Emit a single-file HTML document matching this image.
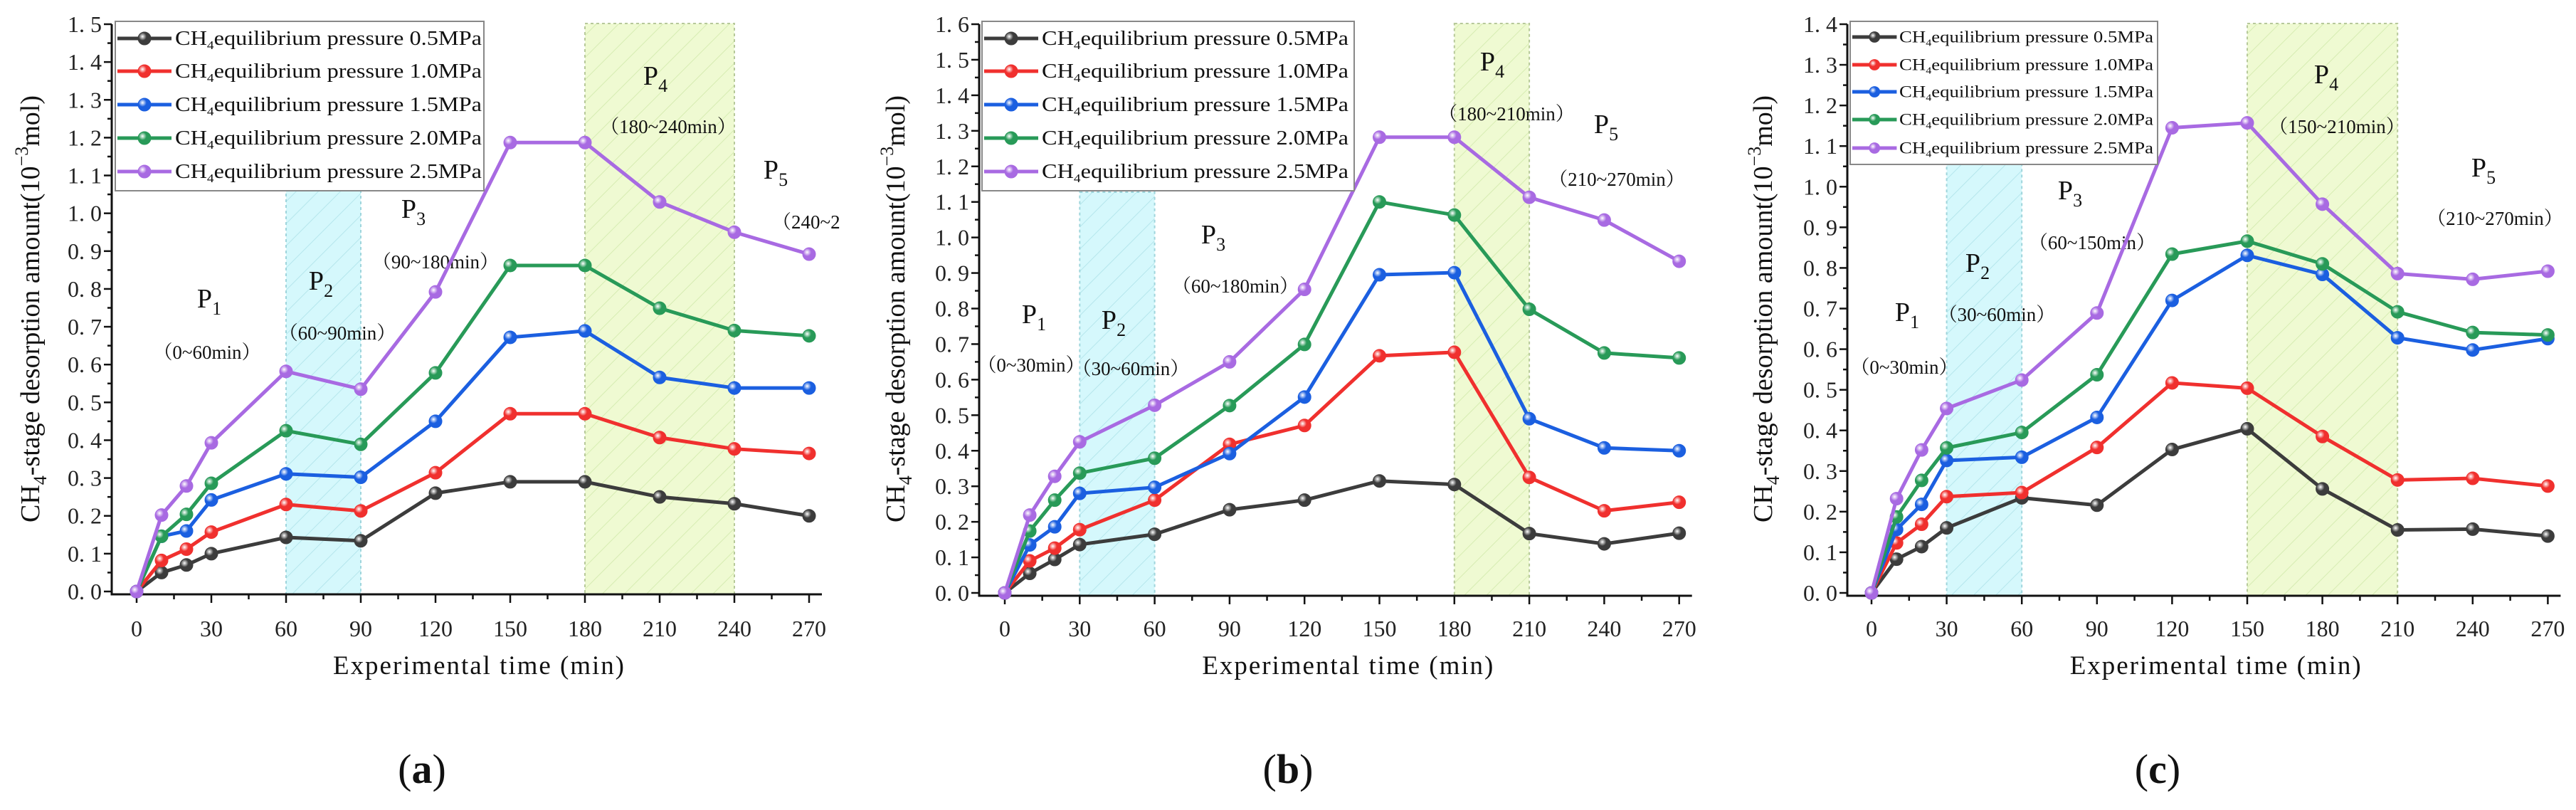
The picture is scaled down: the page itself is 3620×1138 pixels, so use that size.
<!DOCTYPE html>
<html><head><meta charset="utf-8"><style>
html,body{margin:0;padding:0;background:#fff;}
svg{display:block;font-family:"Liberation Serif","Noto Serif CJK SC",serif;}
</style></head><body>
<svg id="chart" width="3620" height="1138" viewBox="0 0 3620 1138" xmlns="http://www.w3.org/2000/svg">
<defs>
<pattern id="hatchCyan" patternUnits="userSpaceOnUse" width="22" height="22" patternTransform="rotate(45)">
<rect width="22" height="22" fill="#d5f8fc"/><line x1="0" y1="0" x2="0" y2="22" stroke="#b5e6ec" stroke-width="2"/></pattern>
<pattern id="hatchGreen" patternUnits="userSpaceOnUse" width="22" height="22" patternTransform="rotate(45)">
<rect width="22" height="22" fill="#effad2"/><line x1="0" y1="0" x2="0" y2="22" stroke="#d6ecb2" stroke-width="2"/></pattern>
</defs>
</svg>
<script>
const times=[0,10,20,30,60,90,120,150,180,210,240,270];
const seriesLabels=["0.5MPa","1.0MPa","1.5MPa","2.0MPa","2.5MPa"];
const aBlack=[0,0.05,0.07,0.10,0.143,0.134,0.26,0.29,0.29,0.25,0.232,0.20];
const aRed=[0,0.082,0.112,0.157,0.23,0.213,0.314,0.47,0.47,0.407,0.377,0.365];
const aBlue=[0,0.146,0.16,0.242,0.311,0.302,0.45,0.672,0.689,0.566,0.538,0.538];
const aGreen=[0,0.146,0.204,0.286,0.425,0.389,0.578,0.862,0.862,0.749,0.69,0.676];
const aPurple=[0,0.202,0.279,0.393,0.582,0.535,0.792,1.187,1.187,1.03,0.95,0.892];
const bBlack=[0,0.055,0.094,0.136,0.165,0.234,0.261,0.315,0.305,0.167,0.138,0.168];
const bRed=[0,0.09,0.126,0.178,0.261,0.418,0.471,0.667,0.677,0.325,0.231,0.255];
const bBlue=[0,0.135,0.186,0.28,0.297,0.392,0.551,0.895,0.901,0.49,0.408,0.40];
const bGreen=[0,0.174,0.261,0.337,0.379,0.527,0.699,1.10,1.063,0.798,0.675,0.661];
const bPurple=[0,0.219,0.328,0.425,0.528,0.65,0.854,1.282,1.282,1.113,1.049,0.933];
const cBlack=[0,0.083,0.114,0.16,0.234,0.216,0.353,0.404,0.256,0.155,0.157,0.14];
const cRed=[0,0.123,0.169,0.237,0.247,0.358,0.517,0.504,0.385,0.278,0.282,0.263];
const cBlue=[0,0.156,0.218,0.326,0.334,0.432,0.72,0.831,0.784,0.628,0.598,0.626];
const cGreen=[0,0.187,0.277,0.357,0.395,0.537,0.834,0.866,0.81,0.692,0.641,0.635];
const cPurple=[0,0.232,0.352,0.454,0.524,0.689,1.145,1.157,0.957,0.786,0.772,0.792];
const xTicks=[0,30,60,90,120,150,180,210,240,270];
const aBands=[[60,90],[180,240]];
const bBands=[[30,60],[180,210]];
const cBands=[[30,60],[150,210]];
const aPhases=["0~60min","60~90min","90~180min","180~240min","240~270m"];
const bPhases=["0~30min","30~60min","60~180min","180~210min","210~270min"];
const cPhases=["0~30min","30~60min","60~150min","150~210min","210~270min"];

const colors=["#3c3c3c","#f0302e","#1b5fe0","#289a58","#a86ae2"];
const NS="http://www.w3.org/2000/svg";
const svg=document.getElementById('chart');
function mk(tag,attrs,parent){const e=document.createElementNS(NS,tag);for(const k in attrs)e.setAttribute(k,attrs[k]);(parent||svg).appendChild(e);return e;}

const defs=svg.querySelector('defs');
colors.forEach((c,i)=>{const g=mk('radialGradient',{id:'ball'+i,cx:'0.35',cy:'0.35',r:'0.7'},defs);
mk('stop',{offset:'0','stop-color':'#ffffff'},g);mk('stop',{offset:'0.45','stop-color':c},g);mk('stop',{offset:'1','stop-color':c},g);});

const panels=[
 {id:'a',x0:192,k:3.5,axisX:157,yB:831,yT:34,axisY:835,yMax:1.5,series:[aBlack,aRed,aBlue,aGreen,aPurple],bands:aBands,bandTops:[268,33],
  legend:{x:162,y:30,w:518,h:238,fs:28,tl:431,rows:[54,100,147,194,241]},phases:aPhases,
  pPos:[[294,420],[451,395],[581,294],[921,107],[1090,239]],tPos:[[291,495],[474,468],[612,368],[939,178],[1085,312]],ytitle:42,lab:[593,1080],clip:1182},
 {id:'b',x0:1412,k:3.51,axisX:1376,yB:833,yT:34,axisY:837,yMax:1.6,series:[bBlack,bRed,bBlue,bGreen,bPurple],bands:bBands,bandTops:[270,33],
  legend:{x:1380,y:30,w:523,h:238,fs:28,tl:431,rows:[54,100,147,194,241]},phases:bPhases,
  pPos:[[1453,442],[1565,450],[1705,330],[2097,87],[2257,175]],tPos:[[1449,513],[1589,518],[1736,402],[2117,160],[2272,252]],ytitle:1258,lab:[1810,1080],clip:3620},
 {id:'c',x0:2630,k:3.52,axisX:2596,yB:833,yT:34,axisY:837,yMax:1.4,series:[cBlack,cRed,cBlue,cGreen,cPurple],bands:cBands,bandTops:[231,33],
  legend:{x:2600,y:30,w:432,h:201,fs:23,tl:357,rows:[52,91,129,168,208]},phases:cPhases,
  pPos:[[2680,439],[2779,370],[2909,268],[3269,105],[3490,236]],tPos:[[2676,516],[2806,442],[2940,341],[3284,178],[3506,307]],ytitle:2477,lab:[3032,1080],clip:3620}
];

panels.forEach(p=>{
 const X=t=>p.x0+t*p.k;
 const Y=v=>p.yB-v/p.yMax*(p.yB-p.yT);
 const g=mk('g',{});
 
 
 p.bands.forEach((b,i)=>{
  const r=mk('rect',{x:X(b[0]),y:p.bandTops[i],width:X(b[1])-X(b[0]),height:p.axisY-p.bandTops[i],fill:i==0?'url(#hatchCyan)':'url(#hatchGreen)',stroke:i==0?'#9fd5dc':'#b7c99a','stroke-width':2,'stroke-dasharray':'4 4'},g);
  
  
 });
 const ax=mk('path',{d:`M${p.axisX} ${p.yT} V${p.axisY} H${X(270)+18}`,fill:'none',stroke:'#111','stroke-width':3},g);
 
 
 const nY=Math.round(p.yMax*10);
 for(let i=0;i<=nY*2;i++){
  const v=i/20, yy=Y(v), major=i%2==0;
  mk('line',{x1:p.axisX-(major?11:6),x2:p.axisX,y1:yy,y2:yy,stroke:'#111','stroke-width':2.5},g);
  if(major){const t=mk('text',{x:p.axisX-14,y:yy+11,'text-anchor':'end','font-size':32,fill:'#222'},g);
   t.textContent=v.toFixed(1).replace('.','. ');
   
   }
 }
 for(let t=0;t<=270;t+=15){
  const major=t%30==0;
  mk('line',{x1:X(t),x2:X(t),y1:p.axisY,y2:p.axisY+(major?12:7),stroke:'#111','stroke-width':2.5},g);
 }
 xTicks.forEach(t=>{const e=mk('text',{x:X(t),y:894,'text-anchor':'middle','font-size':32,fill:'#222'},g);e.textContent=t;
  
  });
 const xt=mk('text',{x:X(135)+8,y:947,'text-anchor':'middle','font-size':37,fill:'#111',textLength:409},g);
 xt.textContent='Experimental time (min)';
 
 
 const yt=mk('text',{x:0,y:0,'text-anchor':'middle','font-size':38,fill:'#111',transform:`translate(${p.ytitle+13},434) rotate(-90)`},g);
 yt.innerHTML='CH<tspan font-size="26" dy="10">4</tspan><tspan dy="-10">-stage desorption amount(10</tspan><tspan font-size="26" dy="-16">−3</tspan><tspan dy="16">mol)</tspan>';
 
 
 const cl=mk('clipPath',{id:'clip'+p.id},defs);mk('rect',{x:0,y:0,width:p.clip,height:1138},cl);
 const ann=mk('g',{'clip-path':`url(#clip${p.id})`},g);
 p.pPos.forEach((pp,i)=>{const e=mk('text',{x:pp[0],y:pp[1]+12,'text-anchor':'middle','font-size':38,fill:'#111'},ann);
  e.innerHTML='P<tspan font-size="26" dy="10">'+(i+1)+'</tspan>';
  
  });
 p.tPos.forEach((pp,i)=>{const e=mk('text',{x:pp[0],y:pp[1]+9,'text-anchor':i==4&&p.id=='a'?'start':'middle','font-size':27,fill:'#111'},ann);
  e.textContent='（'+p.phases[i]+(i==4&&p.id=='a'?'':'）');
  
  });
 p.series.forEach((s,si)=>{
  const sg=mk('g',{},g);
  
  
  mk('polyline',{points:s.map((v,i)=>X(times[i])+','+Y(v)).join(' '),fill:'none',stroke:colors[si],'stroke-width':5,'stroke-linejoin':'round'},sg);
  s.forEach((v,i)=>{const c=mk('circle',{cx:X(times[i]),cy:Y(v),r:9,fill:'url(#ball'+si+')',stroke:colors[si],'stroke-width':1},sg);
   
   });
 });
 const L=p.legend;
 const lg=mk('g',{},g);
 
 
 mk('rect',{x:L.x,y:L.y,width:L.w,height:L.h,fill:'#fff',stroke:'#888','stroke-width':2},lg);
 seriesLabels.forEach((lab,i)=>{
  const yy=L.rows[i];
  const sc=L.fs/28;
  mk('line',{x1:L.x+3,x2:L.x+3+76*sc,y1:yy,y2:yy,stroke:colors[i],'stroke-width':5},lg);
  mk('circle',{cx:L.x+3+38*sc,cy:yy,r:9*sc,fill:'url(#ball'+i+')',stroke:colors[i]},lg);
  const t=mk('text',{x:L.x+84*sc,y:yy+9*sc,'font-size':L.fs,fill:'#111',textLength:L.tl,lengthAdjust:'spacingAndGlyphs'},lg);
  t.innerHTML='CH<tspan font-size="'+(L.fs*0.6)+'" dy="'+(6*sc)+'">4</tspan><tspan dy="'+(-6*sc)+'">equilibrium pressure '+lab+'</tspan>';
  
  
 });
 const pl=mk('text',{x:p.lab[0],y:p.lab[1]+20,'text-anchor':'middle','font-size':58,fill:'#111'},g);
 pl.innerHTML='(<tspan font-weight="bold">'+p.id+'</tspan>)';
 
 
});
</script>
</body></html>
